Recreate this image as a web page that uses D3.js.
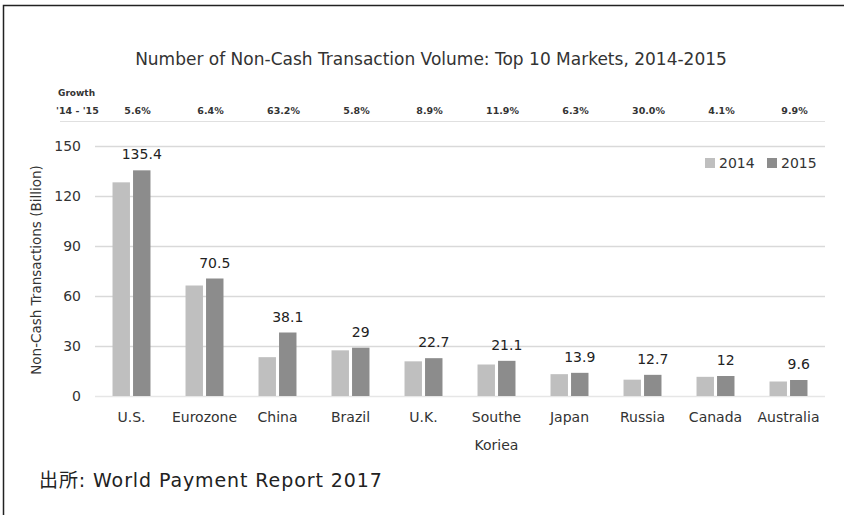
<!DOCTYPE html>
<html>
<head>
<meta charset="utf-8">
<script src="https://cdn.jsdelivr.net/npm/d3@7"></script>
<style>
  body { margin: 0; background: #fff; }
  svg { display: block; font-family: "DejaVu Sans", Verdana, sans-serif; }
</style>
</head>
<body>
<svg id="chart" width="844" height="515"></svg>
<script>
const markets = ["U.S.", "Eurozone", "China", "Brazil", "U.K.", "Southe\nKoriea", "Japan", "Russia", "Canada", "Australia"];
const years = ["2014", "2015"];
const values2014 = [128.2, 66.3, 23.3, 27.4, 20.8, 18.9, 13.1, 9.8, 11.5, 8.7];
const values2015 = [135.4, 70.5, 38.1, 29, 22.7, 21.1, 13.9, 12.7, 12, 9.6];
const growth = ["5.6%", "6.4%", "63.2%", "5.8%", "8.9%", "11.9%", "6.3%", "30.0%", "4.1%", "9.9%"];
const yTicks = [0, 30, 60, 90, 120, 150];

const colors = { "2014": "#bfbfbf", "2015": "#8c8c8c" };

const svg = d3.select("#chart");
const plot = { left: 95, right: 825, top: 146, bottom: 396 };

// frame
svg.append("path")
  .attr("d", "M3.5,515 V5.5 H844")
  .attr("fill", "none")
  .attr("stroke", "#222")
  .attr("stroke-width", 1.5);

const x = d3.scaleBand().domain(markets).range([plot.left, plot.right]).paddingInner(0.48).paddingOuter(0.24);
const xs = d3.scaleBand().domain(years).range([0, x.bandwidth()]).paddingInner(0.15);
const y = d3.scaleLinear().domain([0, 150]).range([plot.bottom, plot.top]);

// title
svg.append("text")
  .attr("x", 431).attr("y", 65)
  .attr("text-anchor", "middle")
  .attr("font-size", 17)
  .attr("fill", "#333")
  .text("Number of Non-Cash Transaction Volume: Top 10 Markets, 2014-2015");

// growth row
svg.append("text").attr("x", 58).attr("y", 96)
  .attr("font-size", 9).attr("font-weight", "bold").attr("fill", "#333").text("Growth");
svg.append("text").attr("x", 56).attr("y", 114)
  .attr("font-size", 9.5).attr("font-weight", "bold").attr("fill", "#333").text("'14 - '15");
svg.append("g").selectAll("text")
  .data(growth)
  .join("text")
  .attr("x", (d, i) => x(markets[i]) + x.bandwidth() / 2 + 6)
  .attr("y", 114)
  .attr("text-anchor", "middle")
  .attr("font-size", 9.5)
  .attr("font-weight", "bold")
  .attr("fill", "#333")
  .text(d => d);
svg.append("line")
  .attr("x1", 60).attr("x2", plot.right)
  .attr("y1", 121.5).attr("y2", 121.5)
  .attr("stroke", "#e0e0e0");

// grid + y axis
const yAxis = svg.append("g")
  .attr("transform", "translate(" + plot.left + ",0)")
  .call(d3.axisLeft(y).tickValues(yTicks).tickSize(-(plot.right - plot.left)).tickPadding(14));
yAxis.select(".domain").remove();
yAxis.selectAll(".tick line").attr("stroke", d => d === 0 ? "#e6e6e6" : "#d9d9d9").attr("stroke-width", 1.5);
yAxis.selectAll(".tick text").attr("font-size", 14).attr("fill", "#333").attr("font-family", "DejaVu Sans, sans-serif");

svg.append("text")
  .attr("transform", "translate(41,270) rotate(-90)")
  .attr("text-anchor", "middle")
  .attr("font-size", 13.5)
  .attr("fill", "#333")
  .text("Non-Cash Transactions (Billion)");

// bars
const rows = markets.map((m, i) => ({ market: m, "2014": values2014[i], "2015": values2015[i] }));
const groups = svg.append("g").selectAll("g")
  .data(rows)
  .join("g")
  .attr("transform", d => "translate(" + x(d.market) + ",0)");
groups.selectAll("rect")
  .data(d => years.map(k => ({ key: k, value: d[k] })))
  .join("rect")
  .attr("x", d => xs(d.key))
  .attr("width", xs.bandwidth())
  .attr("y", d => y(d.value))
  .attr("height", d => y(0) - y(d.value))
  .attr("fill", d => colors[d.key]);

// value labels for 2015
groups.append("text")
  .attr("x", xs("2015") + xs.bandwidth() / 2)
  .attr("y", d => y(d["2015"]) - 11)
  .attr("text-anchor", "middle")
  .attr("font-size", 14)
  .attr("fill", "#222")
  .text(d => d["2015"]);

// category labels
const xLab = svg.append("g").selectAll("text")
  .data(markets)
  .join("text")
  .attr("x", d => x(d) + x.bandwidth() / 2)
  .attr("y", 422)
  .attr("text-anchor", "middle")
  .attr("font-size", 14)
  .attr("fill", "#333");
xLab.selectAll("tspan")
  .data(d => d.split("\n"))
  .join("tspan")
  .attr("x", function() { return d3.select(this.parentNode).attr("x"); })
  .attr("dy", (d, i) => i === 0 ? 0 : 28)
  .text(d => d);

// legend
const legend = svg.append("g").selectAll("g")
  .data(years)
  .join("g")
  .attr("transform", (d, i) => "translate(" + (705 + i * 62) + ",158)");
legend.append("rect").attr("width", 10).attr("height", 10).attr("fill", d => colors[d]);
legend.append("text").attr("x", 14).attr("y", 10).attr("font-size", 14).attr("fill", "#333").text(d => d);

// source
svg.append("text")
  .attr("x", 39).attr("y", 487)
  .attr("font-size", 19)
  .attr("letter-spacing", 0.9)
  .attr("fill", "#222")
  .attr("font-family", "'DejaVu Sans', 'Noto Sans CJK JP', sans-serif")
  .text("出所: World Payment Report 2017");
</script>
</body>
</html>
